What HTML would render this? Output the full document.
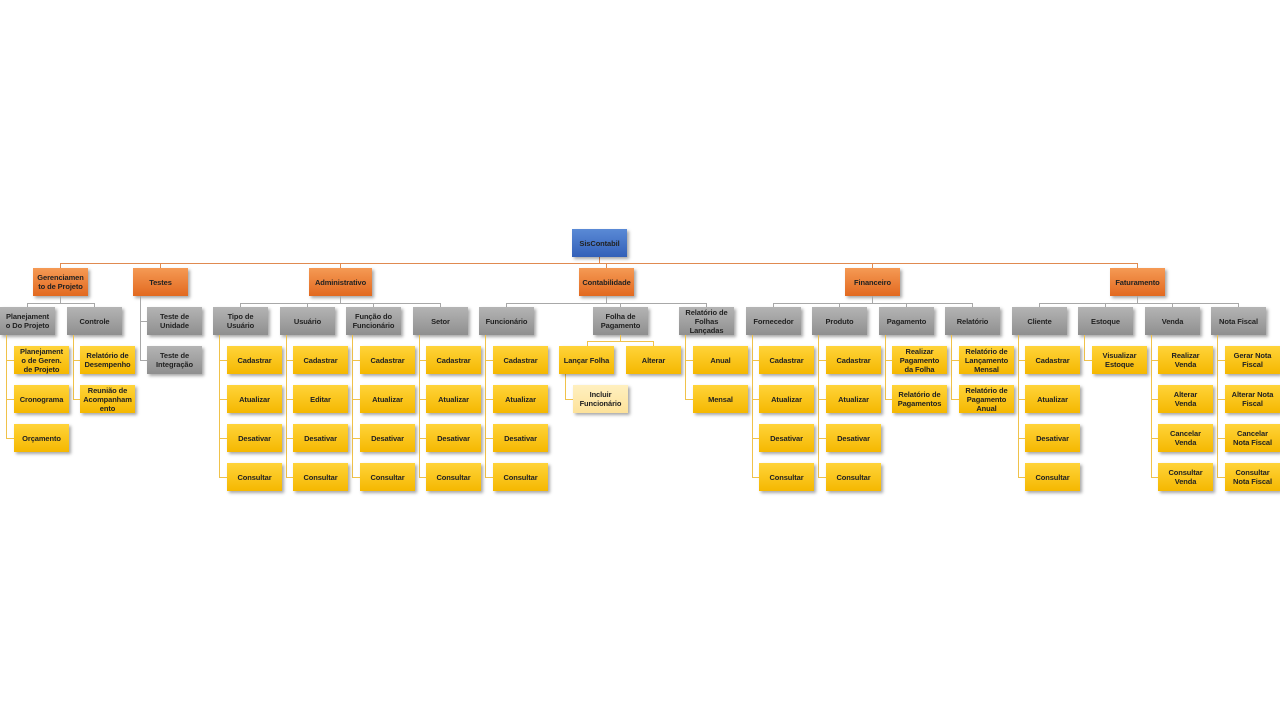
<!DOCTYPE html>
<html><head><meta charset="utf-8"><style>
body{margin:0;width:1280px;height:720px;background:#fff;position:relative;overflow:hidden;font-family:"Liberation Sans",sans-serif}
.b{position:absolute;width:55px;height:28px;display:flex;align-items:center;justify-content:center;text-align:center;font-weight:bold;font-size:7.5px;line-height:9px;color:#222;box-shadow:2px 2px 3px rgba(0,0,0,.35);box-sizing:border-box;padding:0 4px;letter-spacing:-.1px}
.o{background:linear-gradient(#f59a55,#e2691f)}
.g{background:linear-gradient(#b4b4b4,#8f8f8f)}
.y{background:linear-gradient(#ffd43a,#f5b800)}
.l{background:linear-gradient(#fff0c0,#fde29a)}
.r{background:linear-gradient(#5a8ad6,#3360b8)}
.i{position:absolute}
.lo{background:#e08a50}.lg{background:#a8a8a8}.ly{background:#f0c24a}
</style></head><body>
<div class="i lo" style="left:599px;top:257px;width:1px;height:6px"></div>
<div class="i lo" style="left:60px;top:263px;width:1078px;height:1px"></div>
<div class="i lo" style="left:60px;top:263px;width:1px;height:5px"></div>
<div class="i lo" style="left:160px;top:263px;width:1px;height:5px"></div>
<div class="i lo" style="left:340px;top:263px;width:1px;height:5px"></div>
<div class="i lo" style="left:606px;top:263px;width:1px;height:5px"></div>
<div class="i lo" style="left:872px;top:263px;width:1px;height:5px"></div>
<div class="i lo" style="left:1137px;top:263px;width:1px;height:5px"></div>

<div class="b r" style="left:572px;top:229px">SisContabil</div>
<div class="b o" style="left:33px;top:268px">Gerenciamen to de Projeto</div>
<div class="b o" style="left:133px;top:268px">Testes</div>
<div class="b o" style="left:309px;top:268px;width:63px">Administrativo</div>
<div class="b o" style="left:579px;top:268px">Contabilidade</div>
<div class="b o" style="left:845px;top:268px">Financeiro</div>
<div class="b o" style="left:1110px;top:268px">Faturamento</div>

<div class="i lg" style="left:60px;top:296px;width:1px;height:7px"></div>
<div class="i lg" style="left:27px;top:303px;width:68px;height:1px"></div>
<div class="i lg" style="left:27px;top:303px;width:1px;height:4px"></div>
<div class="i lg" style="left:94px;top:303px;width:1px;height:4px"></div>

<div class="i lg" style="left:140px;top:296px;width:1px;height:64px"></div>
<div class="i lg" style="left:140px;top:321px;width:7px;height:1px"></div>
<div class="i lg" style="left:140px;top:360px;width:7px;height:1px"></div>

<div class="i lg" style="left:340px;top:296px;width:1px;height:7px"></div>
<div class="i lg" style="left:240px;top:303px;width:201px;height:1px"></div>
<div class="i lg" style="left:240px;top:303px;width:1px;height:4px"></div>
<div class="i lg" style="left:307px;top:303px;width:1px;height:4px"></div>
<div class="i lg" style="left:373px;top:303px;width:1px;height:4px"></div>
<div class="i lg" style="left:440px;top:303px;width:1px;height:4px"></div>

<div class="i lg" style="left:606px;top:296px;width:1px;height:7px"></div>
<div class="i lg" style="left:506px;top:303px;width:201px;height:1px"></div>
<div class="i lg" style="left:506px;top:303px;width:1px;height:4px"></div>
<div class="i lg" style="left:620px;top:303px;width:1px;height:4px"></div>
<div class="i lg" style="left:706px;top:303px;width:1px;height:4px"></div>

<div class="i lg" style="left:872px;top:296px;width:1px;height:7px"></div>
<div class="i lg" style="left:773px;top:303px;width:200px;height:1px"></div>
<div class="i lg" style="left:773px;top:303px;width:1px;height:4px"></div>
<div class="i lg" style="left:839px;top:303px;width:1px;height:4px"></div>
<div class="i lg" style="left:906px;top:303px;width:1px;height:4px"></div>
<div class="i lg" style="left:972px;top:303px;width:1px;height:4px"></div>

<div class="i lg" style="left:1137px;top:296px;width:1px;height:7px"></div>
<div class="i lg" style="left:1039px;top:303px;width:200px;height:1px"></div>
<div class="i lg" style="left:1039px;top:303px;width:1px;height:4px"></div>
<div class="i lg" style="left:1105px;top:303px;width:1px;height:4px"></div>
<div class="i lg" style="left:1172px;top:303px;width:1px;height:4px"></div>
<div class="i lg" style="left:1238px;top:303px;width:1px;height:4px"></div>

<div class="b g" style="left:0px;top:307px">Planejament o Do Projeto</div>
<div class="b g" style="left:67px;top:307px">Controle</div>
<div class="b g" style="left:147px;top:307px">Teste de Unidade</div>
<div class="b g" style="left:147px;top:346px">Teste de Integração</div>
<div class="b g" style="left:213px;top:307px">Tipo de Usuário</div>
<div class="b g" style="left:280px;top:307px">Usuário</div>
<div class="b g" style="left:346px;top:307px">Função do Funcionário</div>
<div class="b g" style="left:413px;top:307px">Setor</div>
<div class="b g" style="left:479px;top:307px">Funcionário</div>
<div class="b g" style="left:593px;top:307px">Folha de Pagamento</div>
<div class="b g" style="left:679px;top:307px">Relatório de Folhas Lançadas</div>
<div class="b g" style="left:746px;top:307px">Fornecedor</div>
<div class="b g" style="left:812px;top:307px">Produto</div>
<div class="b g" style="left:879px;top:307px">Pagamento</div>
<div class="b g" style="left:945px;top:307px">Relatório</div>
<div class="b g" style="left:1012px;top:307px">Cliente</div>
<div class="b g" style="left:1078px;top:307px">Estoque</div>
<div class="b g" style="left:1145px;top:307px">Venda</div>
<div class="b g" style="left:1211px;top:307px">Nota Fiscal</div>

<div class="i ly" style="left:6px;top:335px;width:1px;height:103px"></div>
<div class="i ly" style="left:73px;top:335px;width:1px;height:64px"></div>
<div class="i ly" style="left:219px;top:335px;width:1px;height:142px"></div>
<div class="i ly" style="left:286px;top:335px;width:1px;height:142px"></div>
<div class="i ly" style="left:352px;top:335px;width:1px;height:142px"></div>
<div class="i ly" style="left:419px;top:335px;width:1px;height:142px"></div>
<div class="i ly" style="left:485px;top:335px;width:1px;height:142px"></div>
<div class="i ly" style="left:685px;top:335px;width:1px;height:64px"></div>
<div class="i ly" style="left:752px;top:335px;width:1px;height:142px"></div>
<div class="i ly" style="left:818px;top:335px;width:1px;height:142px"></div>
<div class="i ly" style="left:885px;top:335px;width:1px;height:64px"></div>
<div class="i ly" style="left:951px;top:335px;width:1px;height:64px"></div>
<div class="i ly" style="left:1018px;top:335px;width:1px;height:142px"></div>
<div class="i ly" style="left:1084px;top:335px;width:1px;height:25px"></div>
<div class="i ly" style="left:1151px;top:335px;width:1px;height:142px"></div>
<div class="i ly" style="left:1217px;top:335px;width:1px;height:142px"></div>
<div class="i ly" style="left:620px;top:335px;width:1px;height:6px"></div>
<div class="i ly" style="left:587px;top:341px;width:67px;height:1px"></div>
<div class="i ly" style="left:587px;top:341px;width:1px;height:5px"></div>
<div class="i ly" style="left:653px;top:341px;width:1px;height:5px"></div>
<div class="i ly" style="left:565px;top:374px;width:1px;height:25px"></div>
<div class="i ly" style="left:565px;top:399px;width:8px;height:1px"></div>

<div class="i ly" style="left:6px;top:360px;width:8px;height:1px"></div>
<div class="i ly" style="left:6px;top:399px;width:8px;height:1px"></div>
<div class="i ly" style="left:6px;top:438px;width:8px;height:1px"></div>
<div class="i ly" style="left:73px;top:360px;width:8px;height:1px"></div>
<div class="i ly" style="left:73px;top:399px;width:8px;height:1px"></div>
<div class="i ly" style="left:685px;top:360px;width:8px;height:1px"></div>
<div class="i ly" style="left:685px;top:399px;width:8px;height:1px"></div>
<div class="i ly" style="left:885px;top:360px;width:8px;height:1px"></div>
<div class="i ly" style="left:885px;top:399px;width:8px;height:1px"></div>
<div class="i ly" style="left:951px;top:360px;width:8px;height:1px"></div>
<div class="i ly" style="left:951px;top:399px;width:8px;height:1px"></div>
<div class="i ly" style="left:1084px;top:360px;width:8px;height:1px"></div>
<div class="i ly" style="left:219px;top:360px;width:8px;height:1px"></div><div class="i ly" style="left:219px;top:399px;width:8px;height:1px"></div><div class="i ly" style="left:219px;top:438px;width:8px;height:1px"></div><div class="i ly" style="left:219px;top:477px;width:8px;height:1px"></div>
<div class="i ly" style="left:286px;top:360px;width:8px;height:1px"></div><div class="i ly" style="left:286px;top:399px;width:8px;height:1px"></div><div class="i ly" style="left:286px;top:438px;width:8px;height:1px"></div><div class="i ly" style="left:286px;top:477px;width:8px;height:1px"></div>
<div class="i ly" style="left:352px;top:360px;width:8px;height:1px"></div><div class="i ly" style="left:352px;top:399px;width:8px;height:1px"></div><div class="i ly" style="left:352px;top:438px;width:8px;height:1px"></div><div class="i ly" style="left:352px;top:477px;width:8px;height:1px"></div>
<div class="i ly" style="left:419px;top:360px;width:8px;height:1px"></div><div class="i ly" style="left:419px;top:399px;width:8px;height:1px"></div><div class="i ly" style="left:419px;top:438px;width:8px;height:1px"></div><div class="i ly" style="left:419px;top:477px;width:8px;height:1px"></div>
<div class="i ly" style="left:485px;top:360px;width:8px;height:1px"></div><div class="i ly" style="left:485px;top:399px;width:8px;height:1px"></div><div class="i ly" style="left:485px;top:438px;width:8px;height:1px"></div><div class="i ly" style="left:485px;top:477px;width:8px;height:1px"></div>
<div class="i ly" style="left:752px;top:360px;width:8px;height:1px"></div><div class="i ly" style="left:752px;top:399px;width:8px;height:1px"></div><div class="i ly" style="left:752px;top:438px;width:8px;height:1px"></div><div class="i ly" style="left:752px;top:477px;width:8px;height:1px"></div>
<div class="i ly" style="left:818px;top:360px;width:8px;height:1px"></div><div class="i ly" style="left:818px;top:399px;width:8px;height:1px"></div><div class="i ly" style="left:818px;top:438px;width:8px;height:1px"></div><div class="i ly" style="left:818px;top:477px;width:8px;height:1px"></div>
<div class="i ly" style="left:1018px;top:360px;width:8px;height:1px"></div><div class="i ly" style="left:1018px;top:399px;width:8px;height:1px"></div><div class="i ly" style="left:1018px;top:438px;width:8px;height:1px"></div><div class="i ly" style="left:1018px;top:477px;width:8px;height:1px"></div>
<div class="i ly" style="left:1151px;top:360px;width:8px;height:1px"></div><div class="i ly" style="left:1151px;top:399px;width:8px;height:1px"></div><div class="i ly" style="left:1151px;top:438px;width:8px;height:1px"></div><div class="i ly" style="left:1151px;top:477px;width:8px;height:1px"></div>
<div class="i ly" style="left:1217px;top:360px;width:8px;height:1px"></div><div class="i ly" style="left:1217px;top:399px;width:8px;height:1px"></div><div class="i ly" style="left:1217px;top:438px;width:8px;height:1px"></div><div class="i ly" style="left:1217px;top:477px;width:8px;height:1px"></div>

<div class="b y" style="left:14px;top:346px">Planejament o de Geren. de Projeto</div>
<div class="b y" style="left:14px;top:385px">Cronograma</div>
<div class="b y" style="left:14px;top:424px">Orçamento</div>
<div class="b y" style="left:80px;top:346px">Relatório de Desempenho</div>
<div class="b y" style="left:80px;top:385px">Reunião de Acompanham ento</div>

<div class="b y" style="left:227px;top:346px">Cadastrar</div><div class="b y" style="left:227px;top:385px">Atualizar</div><div class="b y" style="left:227px;top:424px">Desativar</div><div class="b y" style="left:227px;top:463px">Consultar</div>
<div class="b y" style="left:293px;top:346px">Cadastrar</div><div class="b y" style="left:293px;top:385px">Editar</div><div class="b y" style="left:293px;top:424px">Desativar</div><div class="b y" style="left:293px;top:463px">Consultar</div>
<div class="b y" style="left:360px;top:346px">Cadastrar</div><div class="b y" style="left:360px;top:385px">Atualizar</div><div class="b y" style="left:360px;top:424px">Desativar</div><div class="b y" style="left:360px;top:463px">Consultar</div>
<div class="b y" style="left:426px;top:346px">Cadastrar</div><div class="b y" style="left:426px;top:385px">Atualizar</div><div class="b y" style="left:426px;top:424px">Desativar</div><div class="b y" style="left:426px;top:463px">Consultar</div>
<div class="b y" style="left:493px;top:346px">Cadastrar</div><div class="b y" style="left:493px;top:385px">Atualizar</div><div class="b y" style="left:493px;top:424px">Desativar</div><div class="b y" style="left:493px;top:463px">Consultar</div>

<div class="b y" style="left:559px;top:346px">Lançar Folha</div>
<div class="b y" style="left:626px;top:346px">Alterar</div>
<div class="b l" style="left:573px;top:385px">Incluir Funcionário</div>
<div class="b y" style="left:693px;top:346px">Anual</div>
<div class="b y" style="left:693px;top:385px">Mensal</div>

<div class="b y" style="left:759px;top:346px">Cadastrar</div><div class="b y" style="left:759px;top:385px">Atualizar</div><div class="b y" style="left:759px;top:424px">Desativar</div><div class="b y" style="left:759px;top:463px">Consultar</div>
<div class="b y" style="left:826px;top:346px">Cadastrar</div><div class="b y" style="left:826px;top:385px">Atualizar</div><div class="b y" style="left:826px;top:424px">Desativar</div><div class="b y" style="left:826px;top:463px">Consultar</div>
<div class="b y" style="left:892px;top:346px">Realizar Pagamento da Folha</div>
<div class="b y" style="left:892px;top:385px">Relatório de Pagamentos</div>
<div class="b y" style="left:959px;top:346px">Relatório de Lançamento Mensal</div>
<div class="b y" style="left:959px;top:385px">Relatório de Pagamento Anual</div>

<div class="b y" style="left:1025px;top:346px">Cadastrar</div><div class="b y" style="left:1025px;top:385px">Atualizar</div><div class="b y" style="left:1025px;top:424px">Desativar</div><div class="b y" style="left:1025px;top:463px">Consultar</div>
<div class="b y" style="left:1092px;top:346px">Visualizar Estoque</div>
<div class="b y" style="left:1158px;top:346px">Realizar Venda</div><div class="b y" style="left:1158px;top:385px">Alterar Venda</div><div class="b y" style="left:1158px;top:424px">Cancelar Venda</div><div class="b y" style="left:1158px;top:463px">Consultar Venda</div>
<div class="b y" style="left:1225px;top:346px">Gerar Nota Fiscal</div><div class="b y" style="left:1225px;top:385px">Alterar Nota Fiscal</div><div class="b y" style="left:1225px;top:424px">Cancelar Nota Fiscal</div><div class="b y" style="left:1225px;top:463px">Consultar Nota Fiscal</div>
</body></html>
